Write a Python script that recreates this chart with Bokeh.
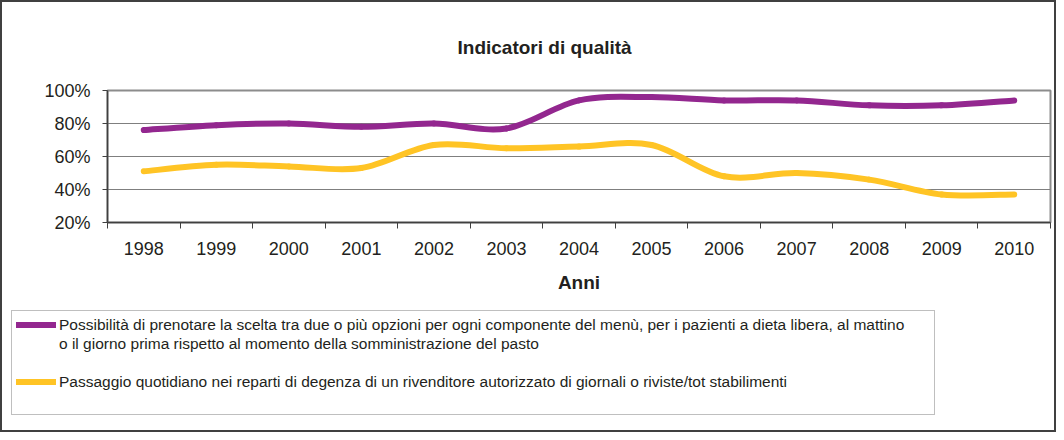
from bokeh.plotting import figure
from bokeh.layouts import column
from bokeh.models import Range1d, FixedTicker, PrintfTickFormatter, Legend, LegendItem, Title
from bokeh.embed import file_html
from bokeh.resources import INLINE

years = ["1998", "1999", "2000", "2001", "2002", "2003", "2004",
         "2005", "2006", "2007", "2008", "2009", "2010"]
menu_choice = [76, 79, 80, 78, 80, 77, 94, 96, 94, 94, 91, 91, 94]
newspaper = [51, 55, 54, 53, 67, 65, 66, 67, 48, 50, 46, 37, 37]

label_menu_1 = ("Possibilità di prenotare la scelta tra due o più opzioni per ogni componente del menù, "
                "per i pazienti a dieta libera, al mattino")
label_menu_2 = "o il giorno prima rispetto al momento della somministrazione del pasto"
label_news = ("Passaggio quotidiano nei reparti di degenza di un rivenditore autorizzato "
              "di giornali o riviste/tot stabilimenti")

FONT = "Liberation Sans"
TXT = "#231F20"
PURPLE = "#93278F"
YELLOW = "#FFC425"

p = figure(width=1052, height=300, output_backend="svg", toolbar_location=None,
           x_range=Range1d(-0.5, len(years) - 0.5), y_range=Range1d(20, 100),
           min_border_left=105, min_border_right=4, min_border_top=88,
           min_border_bottom=80)
p.background_fill_color = "white"
p.border_fill_color = "white"
p.outline_line_color = "#8c8c8c"
p.outline_line_width = 2

p.title = Title(text="Indicatori di qualità", align="left", offset=350,
                text_font=FONT, text_font_size="19px", text_font_style="bold",
                text_color=TXT, standoff=65)


def smooth_segments(vals):
    xs = list(range(len(vals)))
    n = len(vals)
    seg = dict(x0=[], y0=[], x1=[], y1=[], cx0=[], cy0=[], cx1=[], cy1=[])
    for i in range(n - 1):
        pm = i - 1 if i > 0 else i
        pn = i + 2 if i + 2 < n else i + 1
        seg["x0"].append(xs[i]); seg["y0"].append(vals[i])
        seg["x1"].append(xs[i + 1]); seg["y1"].append(vals[i + 1])
        seg["cx0"].append(xs[i] + (xs[i + 1] - xs[pm]) / 6)
        seg["cy0"].append(vals[i] + (vals[i + 1] - vals[pm]) / 6)
        seg["cx1"].append(xs[i + 1] - (xs[pn] - xs[i]) / 6)
        seg["cy1"].append(vals[i + 1] - (vals[pn] - vals[i]) / 6)
    return seg


p.bezier(line_color=PURPLE, line_width=6, line_cap="round", **smooth_segments(menu_choice))
p.bezier(line_color=YELLOW, line_width=6, line_cap="round", **smooth_segments(newspaper))

# x axis
xa = p.xaxis[0]
xa.ticker = FixedTicker(ticks=list(range(len(years))),
                        minor_ticks=[i - 0.5 for i in range(len(years) + 1)])
xa.major_label_overrides = {i: y for i, y in enumerate(years)}
xa.major_tick_line_color = None
xa.major_tick_out = 0
xa.major_tick_in = 0
xa.minor_tick_line_color = "#404040"
xa.minor_tick_out = 6
xa.minor_tick_in = 0
xa.axis_line_color = "#404040"
xa.axis_line_width = 1.5
xa.major_label_text_font = FONT
xa.major_label_text_font_size = "18px"
xa.major_label_text_color = TXT
xa.major_label_standoff = 13
xa.axis_label = "Anni"
xa.axis_label_text_font = FONT
xa.axis_label_text_font_size = "19px"
xa.axis_label_text_font_style = "bold"
xa.axis_label_text_color = TXT
xa.axis_label_standoff = 14

# y axis
ya = p.yaxis[0]
ya.ticker = FixedTicker(ticks=[20, 40, 60, 80, 100])
ya.formatter = PrintfTickFormatter(format="%d%%")
ya.major_tick_line_color = "#404040"
ya.major_tick_out = 5
ya.major_tick_in = 0
ya.minor_tick_line_color = None
ya.axis_line_color = "#404040"
ya.axis_line_width = 1.5
ya.major_label_text_font = FONT
ya.major_label_text_font_size = "18px"
ya.major_label_text_color = TXT
ya.major_label_standoff = 12

p.xgrid.grid_line_color = None
p.ygrid.grid_line_color = "#7f7f7f"
p.ygrid.grid_line_width = 1

# legend panel (its renderers lie outside its ranges, so only the legend shows)
q = figure(width=1052, height=128, output_backend="svg", toolbar_location=None,
           x_axis_type=None, y_axis_type=None, x_range=Range1d(0, 1), y_range=Range1d(0, 1),
           min_border_left=1, min_border_right=0, min_border_top=0, min_border_bottom=0)
q.grid.visible = False
q.outline_line_color = None
q.background_fill_color = "white"
q.border_fill_color = "white"
idx = list(range(len(years)))
lr_menu = q.line(x=idx, y=menu_choice, line_color=PURPLE, line_width=6, line_cap="round")
lr_news = q.line(x=idx, y=newspaper, line_color=YELLOW, line_width=6, line_cap="round")
lr_blank = q.line(x=idx, y=menu_choice, line_alpha=0)

legend = Legend(items=[LegendItem(label=label_menu_1, renderers=[lr_menu]),
                       LegendItem(label=label_menu_2, renderers=[lr_blank]),
                       LegendItem(label=" ", renderers=[lr_blank]),
                       LegendItem(label=label_news, renderers=[lr_news]),
                       LegendItem(label=" ", renderers=[lr_blank])],
                location="top_left", orientation="vertical",
                label_text_font=FONT, label_text_font_size="15.5px",
                label_text_color=TXT, glyph_width=40, glyph_height=19,
                label_height=19, label_width=871,
                label_standoff=3, padding=4, spacing=0, margin=8,
                border_line_color="#7f7f7f", border_line_width=1,
                background_fill_color="white", background_fill_alpha=1)
q.add_layout(legend, "center")

layout = column(p, column(q, spacing=0), spacing=0)
layout.styles = {"border": "2px solid #404040", "background-color": "white"}

open("out.html", "w").write(file_html(layout, INLINE))
